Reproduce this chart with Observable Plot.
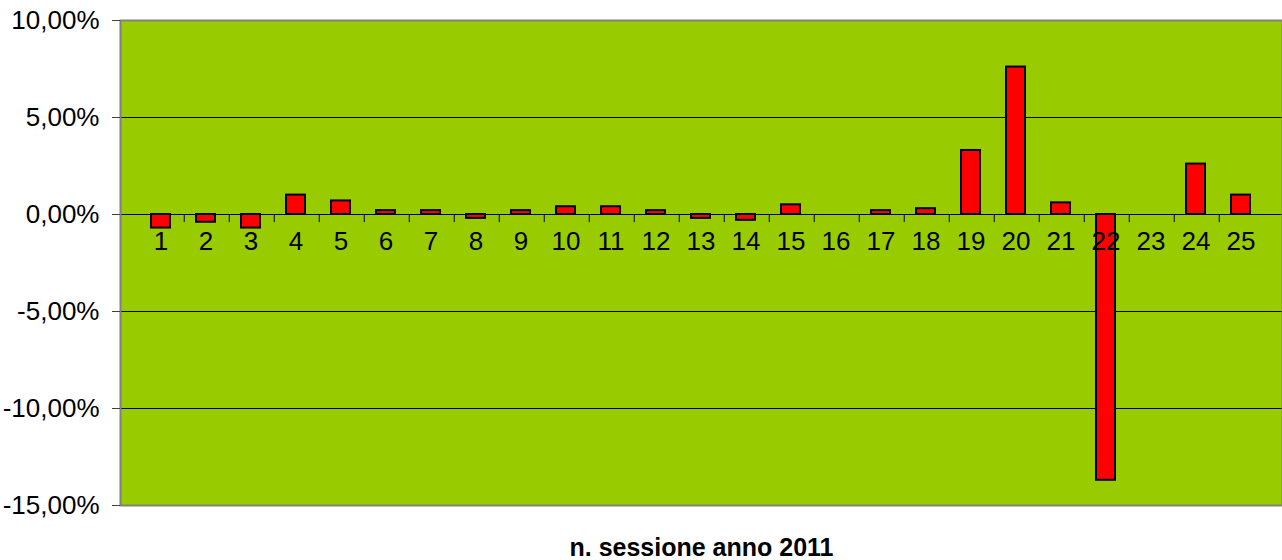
<!DOCTYPE html>
<html>
<head>
<meta charset="utf-8">
<script src="https://cdn.jsdelivr.net/npm/d3@7"></script>
<script src="https://cdn.jsdelivr.net/npm/@observablehq/plot@0.6"></script>
<style>
  html, body { margin: 0; padding: 0; background: #ffffff; }
  #chart svg { display: block; }
</style>
</head>
<body>
<div id="chart"></div>
<script>
const sessions = ["1","2","3","4","5","6","7","8","9","10","11","12","13","14","15","16","17","18","19","20","21","22","23","24","25"];
const values = [-0.7, -0.4, -0.7, 1.0, 0.7, 0.2, 0.2, -0.2, 0.2, 0.4, 0.4, 0.2, -0.2, -0.3, 0.5, 0, 0.2, 0.3, 3.3, 7.6, 0.6, -13.7, 0, 2.6, 1.0];
const yTicks = [-15, -10, -5, 0, 5, 10];
const gridLines = [-10, -5, 0, 5];
const xTitle = "n. sessione anno 2011";

const data = sessions.map((s, i) => ({session: s, value: values[i]}));
const fmt = d => d.toFixed(2).replace(".", ",") + "%";

const W = 1282, ML = 120, MR = 0;
const band = (W - ML - MR) / sessions.length;

const chart = Plot.plot({
  width: W,
  height: 560,
  marginLeft: ML,
  marginRight: MR,
  marginTop: 20,
  marginBottom: 55,
  style: {fontFamily: "'Liberation Sans', Arial, sans-serif", background: "#ffffff", overflow: "visible"},
  x: {domain: sessions, padding: 0.57, axis: null},
  y: {domain: [-15, 10], ticks: yTicks, tickFormat: fmt, label: null},
  marks: [
    Plot.frame({fill: "#99CC00"}),
    Plot.ruleY(gridLines, {stroke: "#000000", strokeWidth: 1}),
    Plot.ruleX(sessions.slice(0, -1), {x: d => d, y1: 0, y2: -0.42, dx: band / 2, stroke: "#000000", strokeWidth: 1}),
    Plot.barY(data, {x: "session", y: "value", fill: "#FF0000", stroke: "#000000", strokeWidth: 2}),
    Plot.text(sessions, {x: d => d, y: () => 0, dy: 27, text: d => d, fontSize: 26, fill: "#000000"}),
    Plot.frame({stroke: "#808080", strokeWidth: 2}),
    Plot.axisY({ticks: yTicks, tickFormat: fmt, tickSize: 8, tickPadding: 13, fontSize: 26, stroke: "#404040", label: null, style: {letterSpacing: "0.6px"}}),
    Plot.text([xTitle], {frameAnchor: "bottom", dy: 50, text: d => d, fontSize: 25, fontWeight: "bold", fill: "#000000", style: {letterSpacing: "1.2px"}})
  ]
});
document.getElementById("chart").appendChild(chart);
</script>
</body>
</html>
